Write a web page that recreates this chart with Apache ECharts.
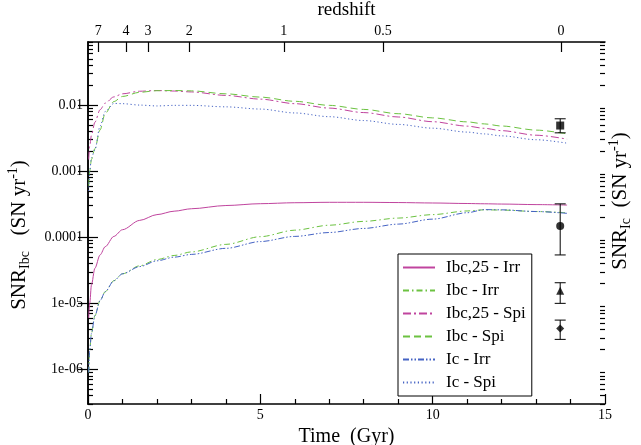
<!DOCTYPE html>
<html>
<head>
<meta charset="utf-8">
<script src="https://cdn.jsdelivr.net/npm/echarts@6/dist/echarts.min.js"></script>
<style>html,body{margin:0;padding:0;background:#fff;}#c{width:641px;height:445px;}</style>
</head>
<body>
<div id="c"></div>
<script>
// ---------- data ----------
const timeGyr = [0.02, 0.05, 0.1, 0.2, 0.35, 0.5, 0.75, 1, 1.5, 2, 2.5, 3, 4, 5, 6, 7, 8, 9, 10, 11, 11.5, 12, 13, 13.9];

const ibc25Irr = [6e-6, 1.0e-5, 1.9e-5, 3.4e-5, 5.4e-5, 7.2e-5, 1.03e-4, 1.3e-4, 1.8e-4, 2.2e-4, 2.48e-4, 2.7e-4, 3.02e-4, 3.22e-4, 3.33e-4, 3.38e-4, 3.38e-4, 3.35e-4, 3.3e-4, 3.24e-4, 3.21e-4, 3.18e-4, 3.12e-4, 3.07e-4];
const ibcIrr   = [9e-7, 2.0e-6, 3.5e-6, 6.5e-6, 1.1e-5, 1.5e-5, 2.2e-5, 2.8e-5, 3.7e-5, 4.6e-5, 5.3e-5, 6.0e-5, 7.8e-5, 1.02e-4, 1.28e-4, 1.52e-4, 1.74e-4, 1.95e-4, 2.2e-4, 2.5e-4, 2.6e-4, 2.58e-4, 2.45e-4, 2.35e-4];
const ibc25Spi = [1.5e-3, 2.4e-3, 3.5e-3, 5.5e-3, 8.5e-3, 1.07e-2, 1.33e-2, 1.48e-2, 1.62e-2, 1.66e-2, 1.63e-2, 1.58e-2, 1.4e-2, 1.23e-2, 1.05e-2, 9.0e-3, 7.7e-3, 6.6e-3, 5.6e-3, 4.8e-3, 4.45e-3, 4.1e-3, 3.5e-3, 3.05e-3];
const ibcSpi   = [6e-4, 1.0e-3, 1.5e-3, 2.2e-3, 4.2e-3, 7.5e-3, 1.13e-2, 1.35e-2, 1.56e-2, 1.65e-2, 1.66e-2, 1.64e-2, 1.48e-2, 1.32e-2, 1.14e-2, 9.9e-3, 8.6e-3, 7.4e-3, 6.4e-3, 5.57e-3, 5.19e-3, 4.82e-3, 4.18e-3, 3.67e-3];
const icIrr    = [9e-7, 2.0e-6, 3.5e-6, 6.5e-6, 1.1e-5, 1.5e-5, 2.2e-5, 2.8e-5, 3.6e-5, 4.4e-5, 5.0e-5, 5.5e-5, 6.8e-5, 8.6e-5, 1.03e-4, 1.18e-4, 1.36e-4, 1.58e-4, 1.88e-4, 2.35e-4, 2.62e-4, 2.6e-4, 2.45e-4, 2.3e-4];
const icSpi    = [5e-4, 1.0e-3, 1.6e-3, 2.1e-3, 4.8e-3, 8.0e-3, 1.06e-2, 1.05e-2, 1.0e-2, 9.7e-3, 9.9e-3, 9.9e-3, 9.4e-3, 8.7e-3, 7.6e-3, 6.67e-3, 5.83e-3, 5.1e-3, 4.47e-3, 3.9e-3, 3.66e-3, 3.42e-3, 2.99e-3, 2.65e-3];

const seriesNames = ['Ibc,25 - Irr', 'Ibc - Irr', 'Ibc,25 - Spi', 'Ibc - Spi', 'Ic - Irr', 'Ic - Spi'];

// observed rates (z = 0)
const obsTime   = [13.7, 13.7, 13.7, 13.7];
const obsValue  = [4.9e-3, 1.48e-4, 1.55e-5, 4.18e-6];
const obsLow    = [3.8e-3, 5.4e-5, 1.0e-5, 2.85e-6];
const obsHigh   = [6.2e-3, 3.2e-4, 2.05e-5, 5.58e-6];
const obsSymbol = ['rect', 'circle', 'triangle', 'diamond'];

// axes ticks
const redshiftLabels = ['7', '4', '3', '2', '1', '0.5', '0'];
const redshiftTimes  = [0.30, 1.10, 1.74, 2.94, 5.68, 8.56, 13.72];
const yMajorValues = [1e-6, 1e-5, 1e-4, 1e-3, 1e-2];
const yMajorLabels = ['1e-06', '1e-05', '0.0001', '0.001', '0.01'];
const yMin = 3e-7, yMax = 0.09;

// ---------- build ----------
const FONT = '"Liberation Serif", "Times New Roman", serif';
const yMinorValues = [];
for (let e = -7; e <= -2; e++) {
  for (let k = 2; k <= 9; k++) {
    const v = k * Math.pow(10, e);
    if (v >= yMin && v <= yMax) yMinorValues.push(v);
  }
}
function pairs(ys) { return timeGyr.map((t, i) => [t, ys[i]]); }

const MAG = '#c0449e', GRN = '#6cc241', BLU = '#4563c4';
const lineDefs = [
  { data: ibc25Irr, color: MAG, type: 'solid' },
  { data: ibcIrr,   color: GRN, type: [6, 3, 1.5, 3] },
  { data: ibc25Spi, color: MAG, type: [8, 3, 2, 3] },
  { data: ibcSpi,   color: GRN, type: [7, 4] },
  { data: icIrr,    color: BLU, type: [6, 2, 1.5, 2, 1.5, 2] },
  { data: icSpi,    color: BLU, type: [1.2, 2.5] }
];

const series = lineDefs.map((d, i) => ({
  name: seriesNames[i],
  type: 'line',
  xAxisIndex: 0, yAxisIndex: 0,
  data: pairs(d.data),
  showSymbol: false, symbol: 'none',
  smooth: 0.3, smoothMonotone: 'x',
  lineStyle: { color: d.color, width: 1, type: d.type },
  itemStyle: { color: d.color },
  emphasis: { disabled: true },
  animation: false,
  z: 3
}));

series.push({
  type: 'custom',
  xAxisIndex: 0, yAxisIndex: 0,
  data: obsTime.map((t, i) => [t, obsLow[i], obsHigh[i]]),
  renderItem: function (params, api) {
    const lo = api.coord([api.value(0), api.value(1)]);
    const hi = api.coord([api.value(0), api.value(2)]);
    const w = 5.5;
    const st = { stroke: '#000', lineWidth: 1 };
    return {
      type: 'group',
      children: [
        { type: 'line', shape: { x1: lo[0], y1: lo[1], x2: hi[0], y2: hi[1] }, style: st },
        { type: 'line', shape: { x1: lo[0] - w, y1: lo[1], x2: lo[0] + w, y2: lo[1] }, style: st },
        { type: 'line', shape: { x1: hi[0] - w, y1: hi[1], x2: hi[0] + w, y2: hi[1] }, style: st }
      ]
    };
  },
  animation: false,
  z: 4
});
series.push({
  type: 'scatter',
  xAxisIndex: 0, yAxisIndex: 0,
  data: obsTime.map((t, i) => ({ value: [t, obsValue[i]], symbol: obsSymbol[i] })),
  symbolSize: 8,
  itemStyle: { color: '#000' },
  emphasis: { disabled: true },
  animation: false,
  z: 5
});

const axisLineStyle = { show: true, lineStyle: { color: '#000', width: 1.5 } };
const tickMajor = { show: true, inside: true, length: 10, lineStyle: { color: '#000', width: 1.2 } };
const tickMinor = { show: true, inside: true, length: 5, lineStyle: { color: '#000', width: 1.2 } };
const labelStyle = { fontFamily: FONT, fontSize: 14, color: '#000' };

function yAx(pos, major, withLabels, name, gap, namePad) {
  return {
    type: 'log', logBase: 10, min: yMin, max: yMax, position: pos,
    axisLine: major ? axisLineStyle : { show: false },
    axisTick: Object.assign({}, major ? tickMajor : tickMinor, { customValues: major ? yMajorValues : yMinorValues }),
    axisLabel: withLabels ? Object.assign({}, labelStyle, {
      show: true, margin: 5, customValues: yMajorValues,
      formatter: function (v) {
        let best = 0;
        yMajorValues.forEach((m, i) => { if (Math.abs(Math.log10(m) - Math.log10(v)) < Math.abs(Math.log10(yMajorValues[best]) - Math.log10(v))) best = i; });
        return yMajorLabels[best];
      }
    }) : { show: false },
    splitLine: { show: false },
    name: name || '',
    nameLocation: 'middle',
    nameRotate: 90,
    nameGap: gap || 0,
    nameTextStyle: {
      fontFamily: FONT, color: '#000',
      padding: namePad || 0,
      rich: {
        m: { fontFamily: FONT, fontSize: 21, lineHeight: 26, color: '#000' },
        s: { fontFamily: FONT, fontSize: 14, lineHeight: 12, verticalAlign: 'bottom', color: '#000' },
        p: { fontFamily: FONT, fontSize: 14, lineHeight: 12, verticalAlign: 'top', color: '#000' }
      }
    }
  };
}

const option = {
  backgroundColor: '#fff',
  animation: false,
  grid: { left: 88, right: 36, top: 42, bottom: 41, containLabel: false, outerBoundsMode: 'none' },
  legend: {
    show: true,
    data: seriesNames,
    orient: 'vertical',
    left: 398, top: 254,
    itemWidth: 32, itemHeight: 14, itemGap: 6,
    padding: [5, 6, 5, 4],
    borderColor: '#000', borderWidth: 1,
    backgroundColor: '#fff',
    selectedMode: false,
    itemStyle: { opacity: 0 },
    textStyle: { fontFamily: FONT, fontSize: 17, color: '#000', padding: [0, 0, 0, 6] }
  },
  xAxis: [
    {
      type: 'value', min: 0, max: 15, interval: 5, position: 'bottom',
      axisLine: axisLineStyle,
      axisTick: tickMajor,
      minorTick: { show: true, splitNumber: 5, length: 5, lineStyle: { color: '#000', width: 1.2 } },
      axisLabel: Object.assign({}, labelStyle, { margin: 4 }),
      splitLine: { show: false }, minorSplitLine: { show: false },
      name: 'Time  (Gyr)', nameLocation: 'middle', nameGap: 17,
      nameTextStyle: { fontFamily: FONT, fontSize: 20, color: '#000' }
    },
    {
      type: 'value', min: 0, max: 15, position: 'top',
      axisLine: axisLineStyle,
      axisTick: Object.assign({}, tickMajor, { customValues: redshiftTimes }),
      axisLabel: Object.assign({}, labelStyle, {
        margin: 4, customValues: redshiftTimes,
        formatter: function (v) {
          let best = 0;
          redshiftTimes.forEach((m, i) => { if (Math.abs(m - v) < Math.abs(redshiftTimes[best] - v)) best = i; });
          return redshiftLabels[best];
        }
      }),
      splitLine: { show: false },
      name: 'redshift', nameLocation: 'middle', nameGap: 16,
      nameTextStyle: { fontFamily: FONT, fontSize: 19, color: '#000' }
    }
  ],
  yAxis: [
    yAx('left', true, true, '{m|SNR}{s|Ibc}{m|   (SN yr}{p|-1}{m|)}', 56, [0, 24, 0, 0]),
    yAx('right', true, false, '{m|SNR}{s|Ic}{m|  (SN yr}{p|-1}{m|)}', 2, [0, 0, 0, 44]),
    yAx('left', false, false, ''),
    yAx('right', false, false, '')
  ],
  series: series
};

const chart = echarts.init(document.getElementById('c'), null, { renderer: 'canvas' });
chart.setOption(option);
</script>
</body>
</html>
